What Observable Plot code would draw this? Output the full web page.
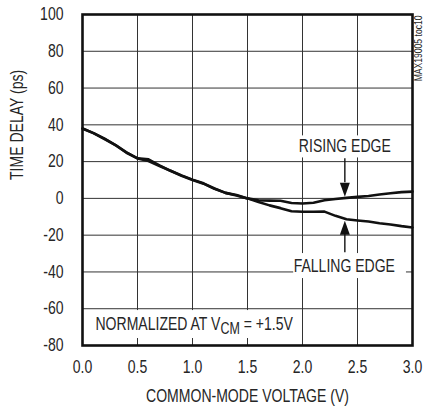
<!DOCTYPE html>
<html>
<head>
<meta charset="utf-8">
<script src="https://cdn.jsdelivr.net/npm/d3@7"></script>
<script src="https://cdn.jsdelivr.net/npm/@observablehq/plot@0.6"></script>
<style>
  html, body { margin: 0; padding: 0; background: #fff; }
  #chart { width: 425px; height: 407px; }
</style>
</head>
<body>
<div id="chart"></div>
<script>
// ---- data ----
const voltage = [0.0,0.1,0.2,0.3,0.4,0.5,0.6,0.7,0.8,0.9,1.0,1.1,1.2,1.3,1.4,1.5,
                 1.6,1.7,1.8,1.9,2.0,2.1,2.2,2.3,2.4,2.5,2.6,2.7,2.8,2.9,3.0];
const risingEdge = [38,35.5,32.5,29,24.8,21.8,21.2,18,15,12.5,10.2,8.2,5.4,3,1.8,0,
                    -1,-1.2,-1.3,-2.5,-2.8,-2.4,-1,-0.3,0.3,0.8,1.3,2.1,2.8,3.4,3.7];
const fallingEdge = [38,35.5,32.3,29,25,21.7,20.3,17.6,15,12.3,10,8,5.2,3,1.6,0,
                    -2,-3.8,-5.3,-7,-7.3,-7.3,-7.2,-9.5,-11.3,-12,-12.6,-13.5,-14.2,-15.1,-15.8];
const xTicks = [0,0.5,1.0,1.5,2.0,2.5,3.0];
const yTicks = [-80,-60,-40,-20,0,20,40,60,80,100];
const xTitle = "COMMON-MODE VOLTAGE (V)";
const yTitle = "TIME DELAY (ps)";
const tag = "MAX19005 toc10";
const notes = [
  {text: "RISING EDGE", x: 2.385, y: 25},
  {text: "FALLING EDGE", x: 2.38, y: -40.3}
];
const normNote = "NORMALIZED AT VCM = +1.5V";

const rows = voltage.flatMap((v, i) => [
  {v, d: risingEdge[i], s: "RISING"},
  {v, d: fallingEdge[i], s: "FALLING"}
]);

const FONT = "'Liberation Sans', Arial, sans-serif";
const SQUEEZE = 0.78;
const INK = "#262626";

const chart = Plot.plot({
  width: 425,
  height: 407,
  marginLeft: 82,
  marginRight: 13,
  marginTop: 14,
  marginBottom: 62,
  style: {fontFamily: FONT, fontSize: "18px", color: INK, background: "#fff"},
  x: {domain: [0, 3]},
  y: {domain: [-80, 100]},
  marks: [
    Plot.gridX({ticks: xTicks, stroke: "#333", strokeOpacity: 1, strokeWidth: 1}),
    Plot.gridY({ticks: yTicks, stroke: "#333", strokeOpacity: 1, strokeWidth: 1}),
    // white boxes behind annotations
    Plot.rect([0], {x1: 1.955, x2: 2.82, y1: 22, y2: 34, fill: "white"}),
    Plot.rect([0], {x1: 1.92, x2: 2.945, y1: -30, y2: -43.6, fill: "white"}),
    Plot.rect([0], {x1: 0.01, x2: 1.99, y1: -61, y2: -76.2, fill: "white"}),
    Plot.axisX({ticks: xTicks, tickFormat: d3.format(".1f"), tickSize: 0, tickPadding: 15, label: null}),
    Plot.axisY({ticks: yTicks, tickSize: 0, tickPadding: 19, tickFormat: d => `${d}`, label: null}),
    Plot.text([xTitle], {frameAnchor: "bottom", dy: 56, lineAnchor: "bottom", text: d => d, fill: INK}),
    Plot.text([yTitle], {frameAnchor: "left", dx: -65, rotate: -90, lineAnchor: "middle", text: d => d, fill: INK}),
    Plot.text([tag], {frameAnchor: "top-right", dx: 6, dy: 1, rotate: -90, textAnchor: "end", lineAnchor: "middle", fontSize: 11, text: d => d, fill: INK}),
    Plot.text(notes, {x: "x", y: "y", text: "text", lineAnchor: "bottom", fill: INK}),
    Plot.text([normNote], {x: 0.118, y: -71.8, text: d => d, textAnchor: "start", lineAnchor: "bottom", fill: INK}),
    Plot.line(rows, {x: "v", y: "d", z: "s", stroke: "#111", strokeWidth: 2.6}),
    // arrows
    Plot.ruleX([0], {x: 2.385, y1: 21.5, y2: 8.5, stroke: "#111", strokeWidth: 1.4}),
    Plot.vector([0], {x: 2.385, y: 0.9, anchor: "end", length: 14, r: 5, shape: "spike", rotate: 180, fill: "#111", stroke: "none"}),
    Plot.ruleX([0], {x: 2.385, y1: -19.7, y2: -29.5, stroke: "#111", strokeWidth: 1.4}),
    Plot.vector([0], {x: 2.385, y: -12.1, anchor: "end", length: 14, r: 5, shape: "spike", rotate: 0, fill: "#111", stroke: "none"}),
    Plot.frame({stroke: "#111", strokeWidth: 2.6})
  ]
});

// subscript "CM" in the normalization note
const ns = "http://www.w3.org/2000/svg";
chart.querySelectorAll("text").forEach(t => {
  if (t.textContent === normNote) {
    t.textContent = "";
    const a = document.createElementNS(ns, "tspan"); a.textContent = "NORMALIZED AT V";
    const b = document.createElementNS(ns, "tspan"); b.textContent = "CM"; b.setAttribute("dy", "4"); b.setAttribute("font-size", "16");
    const c = document.createElementNS(ns, "tspan"); c.textContent = " = +1.5V"; c.setAttribute("dy", "-4");
    t.append(a, b, c);
  }
});

// condensed look: squeeze every text horizontally around its own anchor
chart.querySelectorAll("text").forEach(t => {
  const tr = t.getAttribute("transform");
  if (tr) {
    t.setAttribute("transform", `${tr} scale(${SQUEEZE},1)`);
  } else {
    const x = +(t.getAttribute("x") || 0), y = +(t.getAttribute("y") || 0);
    t.removeAttribute("x"); t.removeAttribute("y");
    t.setAttribute("transform", `translate(${x},${y}) scale(${SQUEEZE},1)`);
  }
});

document.getElementById("chart").appendChild(chart);
</script>
</body>
</html>
